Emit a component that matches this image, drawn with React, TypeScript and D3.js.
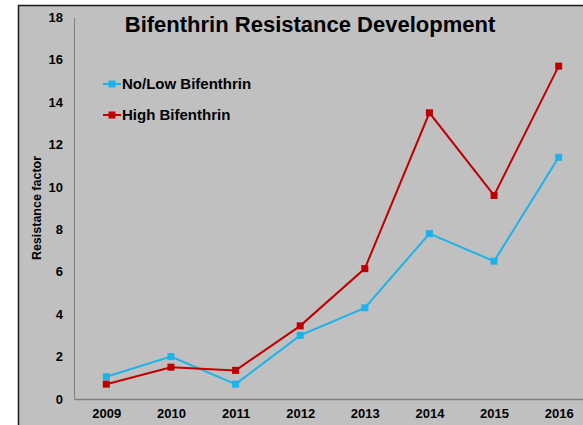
import React, { useEffect, useRef } from 'react';
import * as d3 from 'd3';

const years = ['2009', '2010', '2011', '2012', '2013', '2014', '2015', '2016'];
const lowValues = [1.05, 2.0, 0.7, 3.0, 4.3, 7.8, 6.5, 11.4];
const highValues = [0.7, 1.5, 1.35, 3.45, 6.15, 13.5, 9.6, 15.7];
const yTicks = [0, 2, 4, 6, 8, 10, 12, 14, 16, 18];
const seriesNames = ['No/Low Bifenthrin', 'High Bifenthrin'];
const seriesColors = ['#1BB3EA', '#C00000'];

const W = 583;
const H = 425;
const font = 'Arial, "Liberation Sans", sans-serif';

function AxisBottom({ scale, transform }: any) {
  const ref = useRef<SVGGElement>(null);
  useEffect(() => {
    if (ref.current) {
      const g = d3.select(ref.current).call(d3.axisBottom(scale).tickSize(0).tickPadding(10));
      g.select('.domain').attr('stroke', '#808080').attr('stroke-width', 1.5);
      g.selectAll('text')
        .attr('font-family', font)
        .attr('font-size', 13)
        .attr('font-weight', 'bold')
        .attr('fill', '#000');
    }
  }, [scale]);
  return <g ref={ref} transform={transform} />;
}

function AxisLeft({ scale, transform }: any) {
  const ref = useRef<SVGGElement>(null);
  useEffect(() => {
    if (ref.current) {
      const g = d3.select(ref.current).call(
        d3.axisLeft(scale).tickValues(yTicks).tickSize(0).tickPadding(11)
      );
      g.select('.domain').attr('stroke', '#808080').attr('stroke-width', 1);
      g.selectAll('text')
        .attr('font-family', font)
        .attr('font-size', 13)
        .attr('font-weight', 'bold')
        .attr('fill', '#000');
    }
  }, [scale]);
  return <g ref={ref} transform={transform} />;
}

export default function App() {
  const left = 74;
  const bottom = 399;
  const top = 17.4;

  const x = d3.scalePoint<string>().domain(years).range([left, 591]).padding(0.5);
  const y = d3.scaleLinear().domain([0, 18]).range([bottom, top]);

  const line = d3
    .line<number>()
    .x((_, i) => x(years[i])!)
    .y((d) => y(d));

  const series = [lowValues, highValues];

  return (
    <svg
      width={W}
      height={H}
      style={{ position: 'absolute', left: 0, top: 0, display: 'block' }}
    >
      <rect x={0} y={0} width={W} height={H} fill="#fff" />
      <rect x={18.5} y={5.5} width={W} height={H} fill="#C0C0C0" stroke="#1a1a1a" strokeWidth={1.5} />

      <text
        x={310}
        y={32}
        textAnchor="middle"
        fontFamily={font}
        fontSize={22}
        fontWeight="bold"
      >
        Bifenthrin Resistance Development
      </text>

      <text
        transform={`translate(41, 208) rotate(-90)`}
        textAnchor="middle"
        fontFamily={font}
        fontSize={12.5}
        fontWeight="bold"
      >
        Resistance factor
      </text>

      <AxisLeft scale={y} transform={`translate(${left},0)`} />
      <AxisBottom scale={x} transform={`translate(0,${bottom})`} />

      {series.map((vals, si) => (
        <g key={seriesNames[si]}>
          <path d={line(vals)!} fill="none" stroke={seriesColors[si]} strokeWidth={2} />
          {vals.map((v, i) => (
            <rect
              key={years[i]}
              x={x(years[i])! - 3.5}
              y={y(v) - 3.5}
              width={7}
              height={7}
              fill={seriesColors[si]}
            />
          ))}
        </g>
      ))}

      {seriesNames.map((name, si) => {
        const ly = 84 + si * 31;
        return (
          <g key={name}>
            <line x1={103} x2={121} y1={ly} y2={ly} stroke={seriesColors[si]} strokeWidth={2} />
            <rect x={108.5} y={ly - 3.5} width={7} height={7} fill={seriesColors[si]} />
            <text
              x={122}
              y={ly}
              dy="0.35em"
              fontFamily={font}
              fontSize={15}
              fontWeight="bold"
            >
              {name}
            </text>
          </g>
        );
      })}
    </svg>
  );
}
